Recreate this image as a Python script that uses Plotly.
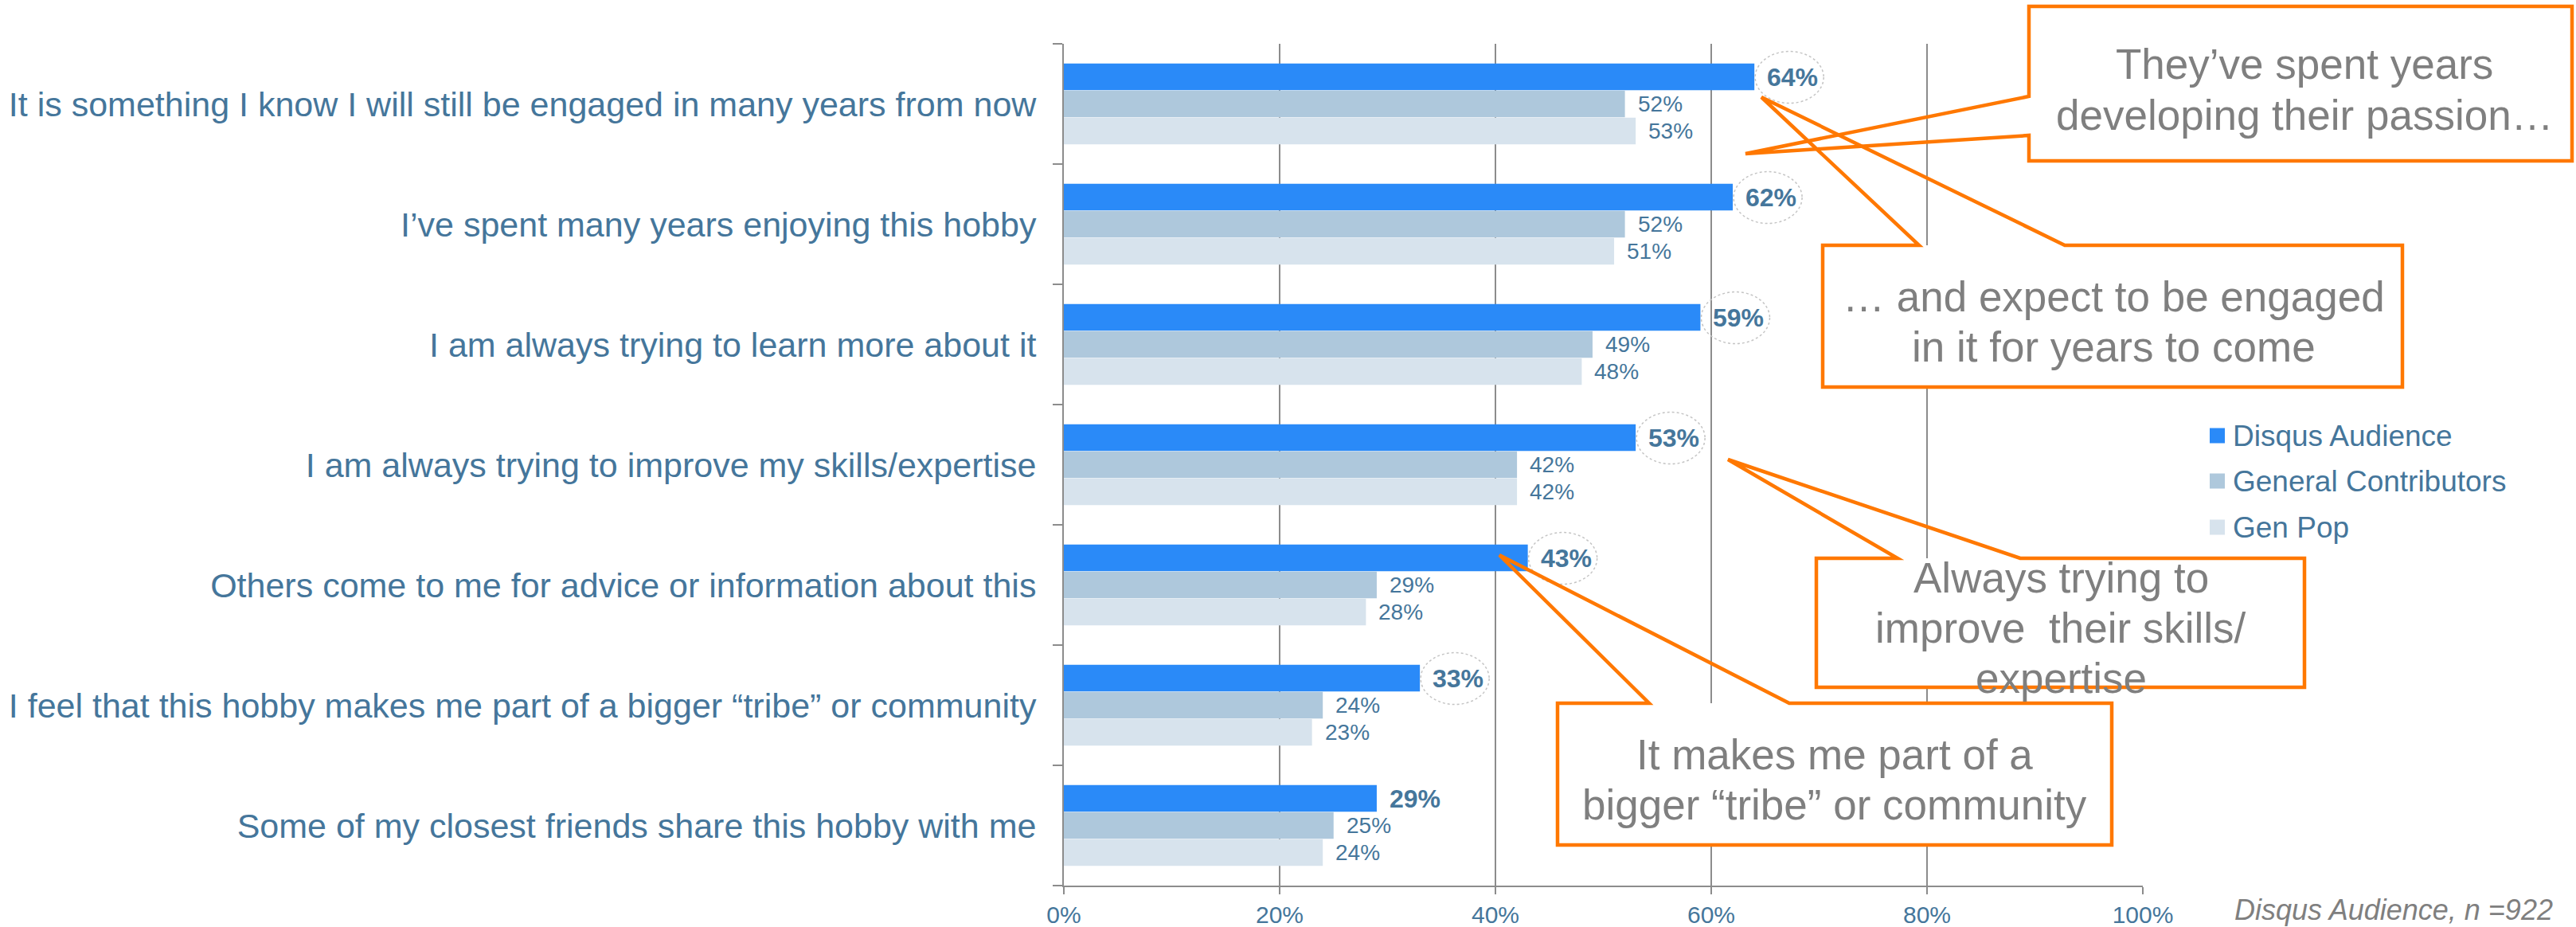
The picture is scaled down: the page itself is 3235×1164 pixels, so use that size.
import plotly.graph_objects as go

# ---- data -------------------------------------------------------------
categories = [
    "It is something I know I will still be engaged in many years from now",
    "I’ve spent many years enjoying this hobby",
    "I am always trying to learn more about it",
    "I am always trying to improve my skills/expertise",
    "Others come to me for advice or information about this",
    "I feel that this hobby makes me part of a bigger “tribe” or community",
    "Some of my closest friends share this hobby with me",
]
disqus_audience = [64, 62, 59, 53, 43, 33, 29]
general_contributors = [52, 52, 49, 42, 29, 24, 25]
gen_pop = [53, 51, 48, 42, 28, 23, 24]
series_names = ["Disqus Audience", "General Contributors", "Gen Pop"]
x_tick_values = [0, 20, 40, 60, 80, 100]
x_tick_labels = ["0%", "20%", "40%", "60%", "80%", "100%"]
footnote = "Disqus Audience, n =922"

callout_texts = [
    ["They’ve spent years", "developing their passion…"],
    ["… and expect to be engaged", "in it for years to come"],
    ["Always trying to", "improve  their skills/", "expertise"],
    ["It makes me part of a", "bigger “tribe” or community"],
]

# ---- styling ----------------------------------------------------------
W, H = 3235, 1164
L, R, T, B = 1336, 2691, 55, 1112          # plot area in pixels
FONT = "Liberation Sans, Arial, sans-serif"
TEXT_BLUE = "#45769B"
GRID = "#8C8C8C"
ORANGE = "#FF7800"
CALLOUT_GREY = "#7F7F7F"
colors = ["#2A8AF8", "#AEC8DC", "#D7E3ED"]
offsets = [-0.225, 0.0, 0.225]
bar_width = 0.222


def px(x):
    return (x - L) / (R - L)


def py(y):
    return (B - y) / (B - T)


series = [disqus_audience, general_contributors, gen_pop]
rows = list(range(len(categories)))

fig = go.Figure()
for name, vals, col, off in zip(series_names, series, colors, offsets):
    fig.add_trace(go.Bar(
        name=name,
        x=vals,
        y=[r + off for r in rows],
        orientation="h",
        width=bar_width,
        marker=dict(color=col, line=dict(width=0)),
        showlegend=False,
        hoverinfo="skip",
    ))

annotations = []
shapes = []

# value labels
for s_idx, (vals, off) in enumerate(zip(series, offsets)):
    for r, v in zip(rows, vals):
        bold = s_idx == 0
        annotations.append(dict(
            x=v, y=r + off, xref="x", yref="y",
            text=f"<b>{v}%</b>" if bold else f"{v}%",
            showarrow=False, xanchor="left", yanchor="middle",
            xshift=14,
            font=dict(family=FONT, size=32 if bold else 28, color=TEXT_BLUE),
        ))

# dotted rings around the highlighted values
for r, v in zip(rows[:6], disqus_audience[:6]):
    shapes.append(dict(
        type="circle", xref="x", yref="y",
        xsizemode="pixel", ysizemode="pixel",
        xanchor=v, yanchor=r + offsets[0],
        x0=1, x1=87, y0=-33, y1=32,
        line=dict(color="#C4C4C4", width=1.5, dash="dot"),
        layer="above",
    ))

# callout boxes: (box x0, y0, x1, y1), outline points incl. pointer, line baselines, text centre x
callouts = [
    ((2548, 8, 3230, 202),
     [(2548, 8), (3230, 8), (3230, 202), (2548, 202), (2548, 170), (2192, 193), (2548, 121)],
     [97, 161], 2894),
    ((2289, 308, 3017, 486),
     [(2289, 308), (2410, 308), (2212, 122), (2593, 308), (3017, 308), (3017, 486), (2289, 486)],
     [389, 452], 2654),
    ((2281, 701, 2894, 863),
     [(2281, 701), (2383, 701), (2170, 577), (2537, 701), (2894, 701), (2894, 863), (2281, 863)],
     [742, 805, 868], 2588),
    ((1956, 883, 2652, 1061),
     [(1956, 883), (2071, 883), (1883, 697), (2247, 883), (2652, 883), (2652, 1061), (1956, 1061)],
     [964, 1027], 2304),
]
CALLOUT_SIZE = 53
for (box, outline, baselines, cx), lines in zip(callouts, callout_texts):
    x0, y0, x1, y1 = box
    shapes.append(dict(
        type="rect", xref="paper", yref="paper",
        x0=px(x0), x1=px(x1), y0=py(y1), y1=py(y0),
        fillcolor="white", line=dict(width=0), layer="above",
    ))
    path = "M " + " L ".join(f"{px(x):.5f},{py(y):.5f}" for x, y in outline) + " Z"
    shapes.append(dict(
        type="path", xref="paper", yref="paper", path=path,
        line=dict(color=ORANGE, width=4.5), fillcolor="rgba(0,0,0,0)", layer="above",
    ))
    for txt, base in zip(lines, baselines):
        annotations.append(dict(
            x=px(cx), y=py(base - 0.32 * CALLOUT_SIZE), xref="paper", yref="paper",
            text=txt.replace("  ", " \u00a0"), showarrow=False,
            xanchor="center", yanchor="middle",
            font=dict(family=FONT, size=CALLOUT_SIZE, color=CALLOUT_GREY),
        ))

# legend
legend_y = [547, 604, 662]
for name, col, ly in zip(series_names, colors, legend_y):
    shapes.append(dict(
        type="rect", xref="paper", yref="paper",
        x0=px(2775), x1=px(2794), y0=py(ly + 9.5), y1=py(ly - 9.5),
        fillcolor=col, line=dict(width=0), layer="above",
    ))
    annotations.append(dict(
        x=px(2802), y=py(ly), xref="paper", yref="paper",
        text=name, showarrow=False, xanchor="left", yanchor="middle",
        font=dict(family=FONT, size=37, color=TEXT_BLUE),
    ))

# footnote
annotations.append(dict(
    x=px(2804), y=py(1142), xref="paper", yref="paper",
    text=f"<i>{footnote}</i>", showarrow=False, xanchor="left", yanchor="middle",
    font=dict(family=FONT, size=36, color=CALLOUT_GREY),
))

fig.update_layout(
    width=W, height=H,
    margin=dict(l=L, r=W - R, t=T, b=H - B, pad=0),
    paper_bgcolor="white", plot_bgcolor="white",
    barmode="overlay",
    font=dict(family=FONT, color=TEXT_BLUE),
    shapes=shapes, annotations=annotations,
)
fig.update_xaxes(
    range=[0, 100], tickmode="array", tickvals=x_tick_values, ticktext=x_tick_labels,
    showgrid=True, gridcolor=GRID, gridwidth=2,
    showline=True, linecolor=GRID, linewidth=2,
    ticks="outside", ticklen=9, tickwidth=2, tickcolor=GRID,
    tickfont=dict(family=FONT, size=30, color=TEXT_BLUE),
    ticklabelstandoff=0, automargin=False,
    zeroline=False, fixedrange=True,
)
fig.update_yaxes(
    range=[len(categories) - 0.5, -0.5],
    tickmode="array", tickvals=rows, ticktext=categories,
    ticks="", showgrid=False, zeroline=False,
    showline=True, linecolor=GRID, linewidth=2,
    minor=dict(tick0=0.5, dtick=1, ticks="outside", ticklen=12,
               tickwidth=2, tickcolor=GRID, showgrid=False),
    ticklabelstandoff=24, automargin=False,
    tickfont=dict(family=FONT, size=43, color=TEXT_BLUE),
    fixedrange=True,
)

fig.write_html("out.html")
